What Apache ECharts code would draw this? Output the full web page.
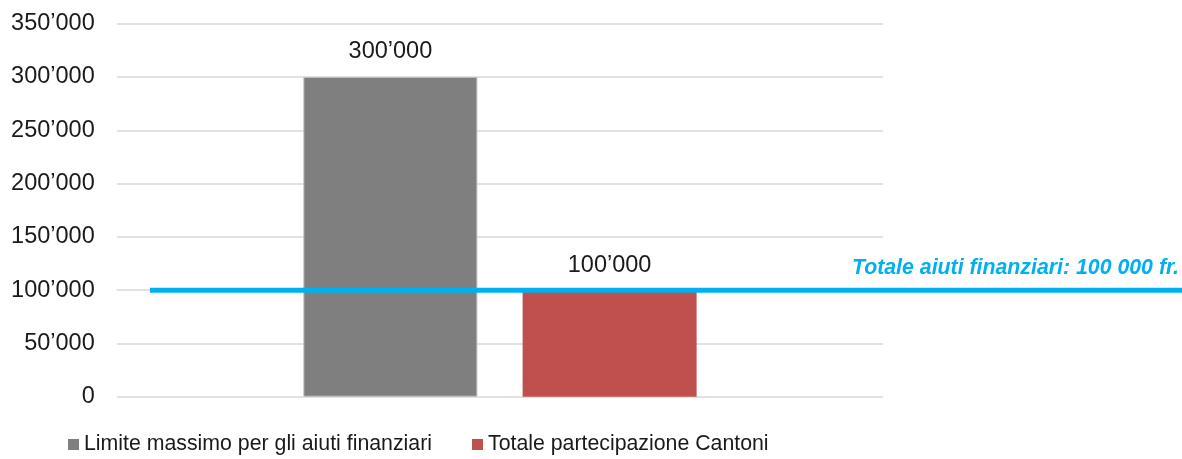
<!DOCTYPE html>
<html>
<head>
<meta charset="utf-8">
<script src="https://cdn.jsdelivr.net/npm/echarts@6/dist/echarts.min.js"></script>
<style>
html,body{margin:0;padding:0;background:#fff;}
#chart{width:1182px;height:459px;}
</style>
</head>
<body>
<div id="chart"></div>
<script>
const categories = [''];
const seriesNames = ['Limite massimo per gli aiuti finanziari', 'Totale partecipazione Cantoni'];
const limiteValues = [300000];
const cantoniValues = [100000];
const totaleAiuti = 100000;
const totaleLabel = 'Totale aiuti finanziari: 100 000 fr.';
const yTicks = [0, 50000, 100000, 150000, 200000, 250000, 300000, 350000];

function fmt(v) {
  return String(Math.round(v)).replace(/\B(?=(\d{3})+(?!\d))/g, '\u2019');
}

const FONT = 'Liberation Sans, Arial, sans-serif';
const chart = echarts.init(document.getElementById('chart'), null, {renderer: 'canvas'});
const gridTop = 23.7, gridBottom = 459 - 396.7;

chart.setOption({
  animation: false,
  textStyle: {fontFamily: FONT},
  title: {
    text: totaleLabel,
    right: 3,
    top: 256,
    padding: 0,
    textStyle: {fontFamily: FONT, fontSize: 21.3, fontWeight: 'bold', fontStyle: 'italic', color: '#00b0f0', lineHeight: 24}
  },
  legend: {
    data: seriesNames,
    left: 68,
    top: 434,
    padding: 0,
    icon: 'rect',
    itemWidth: 11,
    itemHeight: 11,
    itemGap: 40,
    itemStyle: {borderWidth: 0},
    textStyle: {fontFamily: FONT, fontSize: 21.3, color: '#1a1a1a'}
  },
  grid: [
    {left: 116.7, right: 1182 - 883.3, top: gridTop, bottom: gridBottom, containLabel: false},
    {left: 150, right: 0, top: gridTop, bottom: gridBottom, containLabel: false}
  ],
  xAxis: [
    {type: 'category', data: categories, gridIndex: 0, axisLine: {show: false}, axisTick: {show: false}, axisLabel: {show: false}},
    {type: 'value', gridIndex: 1, min: 0, max: 1, show: false}
  ],
  yAxis: [
    {
      type: 'value', gridIndex: 0, min: yTicks[0], max: yTicks[yTicks.length - 1], interval: yTicks[1] - yTicks[0],
      axisLine: {show: false}, axisTick: {show: false},
      axisLabel: {formatter: fmt, fontFamily: FONT, fontSize: 23.5, color: '#1a1a1a', margin: 22},
      splitLine: {lineStyle: {color: '#d9d9d9', width: 1.5}}
    },
    {type: 'value', gridIndex: 1, min: yTicks[0], max: yTicks[yTicks.length - 1], show: false}
  ],
  series: [
    {
      name: seriesNames[0], type: 'bar', xAxisIndex: 0, yAxisIndex: 0,
      data: limiteValues, barWidth: 174, barGap: '26%',
      itemStyle: {color: '#7f7f7f', borderColor: '#bdbdbd', borderWidth: 1},
      label: {show: true, position: 'top', distance: 13, formatter: p => fmt(p.value), fontFamily: FONT, fontSize: 23.5, color: '#1a1a1a'}
    },
    {
      name: seriesNames[1], type: 'bar', xAxisIndex: 0, yAxisIndex: 0,
      data: cantoniValues, barWidth: 174, barGap: '26%',
      itemStyle: {color: '#c0504d'},
      label: {show: true, position: 'top', distance: 13, formatter: p => fmt(p.value), fontFamily: FONT, fontSize: 23.5, color: '#1a1a1a'}
    },
    {
      name: 'totale', type: 'line', xAxisIndex: 1, yAxisIndex: 1,
      data: [[0, totaleAiuti], [1, totaleAiuti]],
      symbol: 'none', lineStyle: {color: '#00b0f0', width: 5}, z: 5
    }
  ]
});
</script>
</body>
</html>
